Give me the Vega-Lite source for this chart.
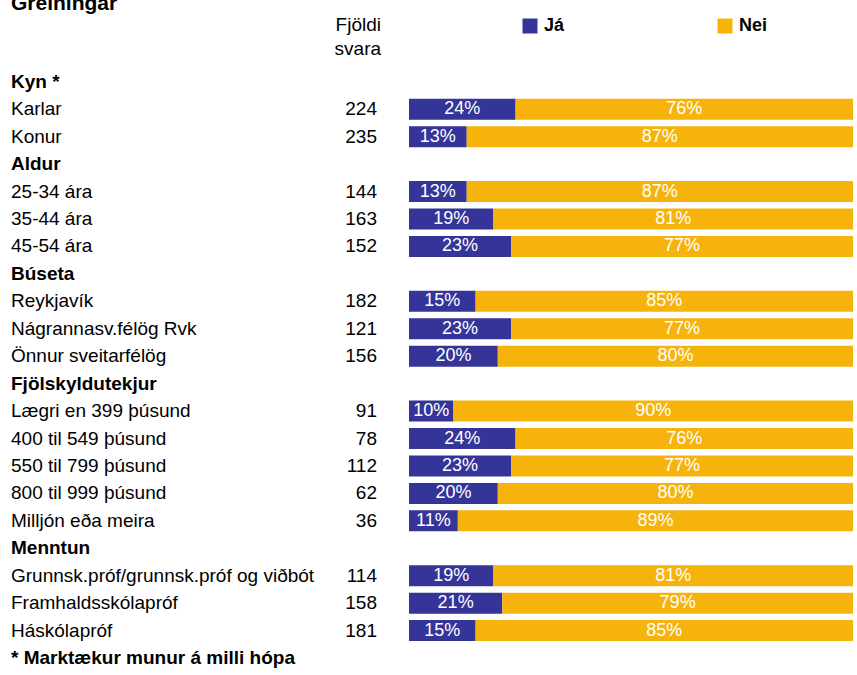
{
  "$schema": "https://vega.github.io/schema/vega-lite/v6.json",
  "width": 857,
  "height": 675,
  "autosize": "none",
  "padding": 0,
  "background": "white",
  "config": {"view": {"stroke": null}, "font": "Liberation Sans"},
  "datasets": {
    "rows": [
      {"row": 0, "label": "Kyn *", "kind": "header"},
      {"row": 1, "label": "Karlar", "kind": "item", "n": 224, "Já": 0.24, "Nei": 0.76},
      {"row": 2, "label": "Konur", "kind": "item", "n": 235, "Já": 0.13, "Nei": 0.87},
      {"row": 3, "label": "Aldur", "kind": "header"},
      {"row": 4, "label": "25-34 ára", "kind": "item", "n": 144, "Já": 0.13, "Nei": 0.87},
      {"row": 5, "label": "35-44 ára", "kind": "item", "n": 163, "Já": 0.19, "Nei": 0.81},
      {"row": 6, "label": "45-54 ára", "kind": "item", "n": 152, "Já": 0.23, "Nei": 0.77},
      {"row": 7, "label": "Búseta", "kind": "header"},
      {"row": 8, "label": "Reykjavík", "kind": "item", "n": 182, "Já": 0.15, "Nei": 0.85},
      {"row": 9, "label": "Nágrannasv.félög Rvk", "kind": "item", "n": 121, "Já": 0.23, "Nei": 0.77},
      {"row": 10, "label": "Önnur sveitarfélög", "kind": "item", "n": 156, "Já": 0.20, "Nei": 0.80},
      {"row": 11, "label": "Fjölskyldutekjur", "kind": "header"},
      {"row": 12, "label": "Lægri en 399 þúsund", "kind": "item", "n": 91, "Já": 0.10, "Nei": 0.90},
      {"row": 13, "label": "400 til 549 þúsund", "kind": "item", "n": 78, "Já": 0.24, "Nei": 0.76},
      {"row": 14, "label": "550 til 799 þúsund", "kind": "item", "n": 112, "Já": 0.23, "Nei": 0.77},
      {"row": 15, "label": "800 til 999 þúsund", "kind": "item", "n": 62, "Já": 0.20, "Nei": 0.80},
      {"row": 16, "label": "Milljón eða meira", "kind": "item", "n": 36, "Já": 0.11, "Nei": 0.89},
      {"row": 17, "label": "Menntun", "kind": "header"},
      {"row": 18, "label": "Grunnsk.próf/grunnsk.próf og viðbót", "kind": "item", "n": 114, "Já": 0.19, "Nei": 0.81},
      {"row": 19, "label": "Framhaldsskólapróf", "kind": "item", "n": 158, "Já": 0.21, "Nei": 0.79},
      {"row": 20, "label": "Háskólapróf", "kind": "item", "n": 181, "Já": 0.15, "Nei": 0.85},
      {"row": 21, "label": "* Marktækur munur á milli hópa", "kind": "note"}
    ]
  },
  "data": {"name": "rows"},
  "encoding": {
    "y": {"field": "row", "type": "quantitative", "axis": null,
          "scale": {"domain": [-2.8007, 21.4363], "reverse": true, "nice": false, "zero": false}}
  },
  "layer": [
    {
      "transform": [
        {"filter": "datum.kind === 'item'"},
        {"fold": ["Já", "Nei"], "as": ["answer", "share"]},
        {"stack": "share", "groupby": ["row"], "sort": [{"field": "answer", "order": "ascending"}], "as": ["s0", "s1"]}
      ],
      "layer": [
        {
          "mark": {"type": "bar", "height": 21, "orient": "horizontal"},
          "encoding": {
            "x": {"field": "s0", "type": "quantitative", "axis": null,
                  "scale": {"domain": [-0.92117, 1.00901], "nice": false, "zero": false}},
            "x2": {"field": "s1"},
            "color": {"field": "answer", "type": "nominal",
              "scale": {"domain": ["Já", "Nei"], "range": ["#353599", "#F6B30B"]},
              "legend": {"orient": "none", "legendX": 521, "legendY": 17, "direction": "horizontal",
                "columns": 2, "columnPadding": 151, "title": null, "symbolType": "square",
                "symbolSize": 225, "symbolStrokeWidth": 0, "labelOffset": 5,
                "labelFont": "Liberation Sans", "labelFontSize": 18, "labelFontWeight": "bold",
                "labelColor": "black"}}
          }
        },
        {
          "transform": [
            {"fold": ["s0", "s1"], "as": ["edge", "pos"]}
          ],
          "mark": {"type": "text", "color": "white", "fontSize": 18, "align": "center", "baseline": "middle"},
          "encoding": {
            "x": {"aggregate": "mean", "field": "pos", "type": "quantitative"},
            "detail": {"field": "answer"},
            "text": {"field": "share", "type": "quantitative", "format": ".0%"}
          }
        }
      ]
    },
    {
      "transform": [{"filter": "datum.kind === 'item'"}],
      "mark": {"type": "text", "align": "left", "baseline": "middle", "fontSize": 19, "color": "black"},
      "encoding": {
        "x": {"datum": -0.8964, "type": "quantitative"},
        "text": {"field": "label"}
      }
    },
    {
      "transform": [{"filter": "datum.kind !== 'item'"}],
      "mark": {"type": "text", "align": "left", "baseline": "middle", "fontSize": 19, "fontWeight": "bold", "color": "black"},
      "encoding": {
        "x": {"datum": -0.8964, "type": "quantitative"},
        "text": {"field": "label"}
      }
    },
    {
      "transform": [{"filter": "datum.kind === 'item'"}],
      "mark": {"type": "text", "align": "right", "baseline": "middle", "fontSize": 19, "color": "black"},
      "encoding": {
        "x": {"datum": -0.0721, "type": "quantitative"},
        "text": {"field": "n", "type": "quantitative"}
      }
    },
    {
      "data": {"values": [{"t": "Greiningar", "r": -2.62}]},
      "mark": {"type": "text", "align": "left", "baseline": "alphabetic", "fontSize": 21, "fontWeight": "bold", "color": "black"},
      "encoding": {
        "x": {"datum": -0.8964, "type": "quantitative"},
        "y": {"field": "r", "type": "quantitative"},
        "text": {"field": "t"}
      }
    },
    {
      "data": {"values": [{"t": "Fjöldi", "r": -2.08}, {"t": "svara", "r": -1.18}]},
      "mark": {"type": "text", "align": "right", "baseline": "middle", "fontSize": 19, "color": "black"},
      "encoding": {
        "x": {"datum": -0.063, "type": "quantitative"},
        "y": {"field": "r", "type": "quantitative"},
        "text": {"field": "t"}
      }
    }
  ]
}
